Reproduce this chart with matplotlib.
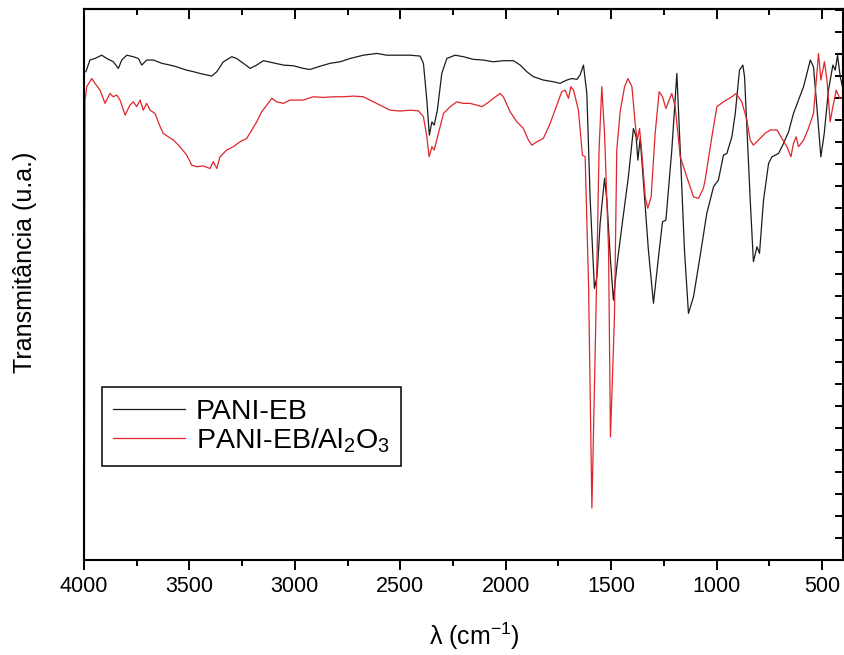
import matplotlib

matplotlib.use("Agg")
import matplotlib.pyplot as plt
from matplotlib.ticker import MultipleLocator

plt.rcParams["font.family"] = ["Liberation Sans", "DejaVu Sans"]
plt.rcParams["mathtext.fontset"] = "custom"
plt.rcParams["mathtext.rm"] = "Liberation Sans"
plt.rcParams["mathtext.it"] = "Liberation Sans:italic"

# FTIR spectra (wavenumber in cm-1, transmittance in a.u.)
pani_wn = [
    3991, 3972, 3948, 3916, 3892, 3861, 3837, 3821, 3797, 3766, 3742, 3726, 3703, 3671,
    3631, 3592, 3560, 3513, 3481, 3450, 3418, 3394, 3370, 3339, 3299, 3276, 3244, 3212,
    3181, 3149, 3102, 3054, 3007, 2960, 2928, 2880, 2833, 2785, 2738, 2675, 2611, 2564,
    2516, 2453, 2406, 2390, 2374, 2362, 2350, 2339, 2324, 2303, 2279, 2240, 2200, 2153,
    2106, 2058, 2011, 1963, 1931, 1900, 1868, 1821, 1773, 1742, 1710, 1686, 1662, 1647,
    1631, 1615, 1599, 1579, 1567, 1552, 1531, 1520, 1504, 1489, 1473, 1449, 1418, 1394,
    1381, 1373, 1362, 1346, 1323, 1299, 1275, 1256, 1240, 1212, 1188, 1172, 1152, 1133,
    1109, 1077, 1046, 1014, 991, 967, 951, 927, 911, 891, 875, 867, 856, 840, 825, 808,
    796, 777, 753, 737, 706, 682, 658, 635, 611, 587, 555, 540, 524, 505, 489, 469, 448,
    437, 426, 413, 399,
]
pani_t = [
    22.20, 22.73, 22.80, 22.95, 22.80, 22.65, 22.35, 22.73, 22.95, 22.88, 22.80, 22.50,
    22.73, 22.73, 22.58, 22.50, 22.42, 22.27, 22.20, 22.12, 22.05, 22.00, 22.20, 22.65,
    22.88, 22.80, 22.58, 22.35, 22.50, 22.70, 22.60, 22.50, 22.47, 22.35, 22.30, 22.45,
    22.58, 22.65, 22.80, 22.95, 23.03, 22.95, 22.95, 22.95, 22.91, 22.58, 20.91, 19.32,
    19.92, 19.77, 20.45, 22.12, 22.80, 22.95, 22.88, 22.76, 22.73, 22.65, 22.70, 22.70,
    22.50, 22.20, 21.97, 21.82, 21.74, 21.67, 21.82, 21.89, 21.85, 22.05, 22.50, 21.21,
    16.36, 12.35, 12.88, 15.30, 17.35, 16.36, 13.79, 11.82, 13.33, 15.15, 17.42, 19.62,
    19.24, 18.18, 19.17, 17.12, 14.09, 11.67, 13.79, 15.38, 15.45, 18.64, 22.12, 18.64,
    14.09, 11.21, 11.97, 13.86, 15.76, 16.97, 17.27, 18.41, 18.48, 19.24, 20.30, 22.27,
    22.50, 21.97, 19.70, 16.36, 13.56, 14.24, 13.94, 16.36, 18.03, 18.33, 18.48, 18.94,
    19.47, 20.30, 20.91, 21.52, 22.73, 22.42, 20.61, 18.33, 19.39, 21.36, 22.50, 22.27,
    22.95, 21.97, 21.36,
]

al2o3_wn = [
    3998, 3995, 3987, 3963, 3948, 3924, 3900, 3877, 3861, 3845, 3829, 3805, 3782, 3766,
    3750, 3734, 3719, 3703, 3687, 3663, 3639, 3624, 3600, 3576, 3545, 3513, 3489, 3465,
    3434, 3402, 3387, 3370, 3355, 3323, 3292, 3260, 3228, 3204, 3181, 3157, 3133, 3109,
    3086, 3054, 3023, 2991, 2960, 2912, 2865, 2817, 2770, 2722, 2675, 2627, 2580, 2548,
    2501, 2453, 2414, 2390, 2374, 2363, 2350, 2339, 2327, 2295, 2263, 2232, 2200, 2169,
    2137, 2113, 2089, 2058, 2026, 2011, 1979, 1947, 1916, 1892, 1876, 1852, 1821, 1789,
    1757, 1734, 1718, 1702, 1691, 1678, 1655, 1636, 1623, 1607, 1591, 1572, 1557, 1544,
    1531, 1512, 1503, 1484, 1473, 1457, 1436, 1420, 1401, 1386, 1376, 1365, 1354, 1338,
    1326, 1310, 1291, 1272, 1256, 1240, 1212, 1196, 1172, 1141, 1109, 1085, 1062, 1054,
    1022, 998, 967, 927, 907, 880, 856, 840, 825, 801, 769, 745, 713, 690, 666, 647,
    635, 622, 611, 587, 564, 540, 524, 516, 505, 488, 476, 461, 448, 432, 416, 400,
]
al2o3_t = [
    0.00, 20.91, 21.52, 21.89, 21.67, 21.36, 20.76, 21.21, 21.06, 21.14, 20.91, 20.23,
    20.68, 20.83, 20.61, 20.91, 20.45, 20.76, 20.45, 20.30, 19.70, 19.39, 19.24, 19.09,
    18.79, 18.41, 17.95, 17.88, 17.91, 17.80, 18.11, 17.80, 18.33, 18.64, 18.79, 19.01,
    19.17, 19.55, 19.92, 20.38, 20.68, 20.99, 20.83, 20.76, 20.91, 20.91, 20.91, 21.06,
    21.03, 21.06, 21.06, 21.09, 21.06, 20.83, 20.61, 20.45, 20.41, 20.45, 20.42, 20.15,
    19.24, 18.33, 18.79, 18.64, 19.09, 20.30, 20.61, 20.83, 20.76, 20.76, 20.68, 20.61,
    20.76, 20.99, 21.21, 21.06, 20.38, 19.92, 19.62, 19.09, 18.86, 19.01, 19.17, 19.85,
    20.68, 21.29, 21.36, 20.99, 21.52, 21.36, 20.45, 18.41, 18.33, 12.58, 2.36, 11.06,
    18.64, 21.52, 19.39, 14.09, 5.59, 11.06, 18.64, 20.38, 21.52, 21.89, 21.52, 19.85,
    19.09, 19.62, 18.48, 16.51, 15.99, 16.51, 19.39, 21.29, 21.06, 20.53, 21.21, 20.61,
    18.33, 17.42, 16.51, 16.44, 16.91, 17.27, 19.24, 20.61, 20.83, 21.06, 21.21, 20.83,
    20.00, 19.09, 18.86, 19.09, 19.40, 19.55, 19.55, 19.17, 18.79, 18.33, 18.94, 19.24,
    18.79, 19.09, 19.62, 20.30, 22.12, 23.03, 21.82, 22.65, 21.82, 19.92, 20.61, 21.36,
    20.99, 20.99,
]

series_labels = ["PANI-EB", "PANI-EB/Al$_2$O$_3$"]
x_ticks = [4000, 3500, 3000, 2500, 2000, 1500, 1000, 500]

fig = plt.figure(figsize=(8.45, 6.55), dpi=100)
ax = fig.add_axes([84 / 845, 95 / 655, 759 / 845, 551 / 655])

ax.plot(pani_wn, pani_t, color="#1c1c1c", lw=0.9, label=series_labels[0])
ax.plot(al2o3_wn, al2o3_t, color="#e0262a", lw=0.9, label=series_labels[1])

ax.set_xlim(4000, 400)
ax.set_ylim(0, 25.05)

ax.set_xticks(x_ticks)
ax.xaxis.set_minor_locator(MultipleLocator(250))
ax.yaxis.set_major_locator(MultipleLocator(1))
ax.tick_params(axis="x", which="both", direction="out", bottom=True, top=False,
               labelsize=15.5, pad=4, width=1.4)
ax.tick_params(axis="x", which="major", length=7.5)
ax.tick_params(axis="x", which="minor", length=4.5)
ax.tick_params(axis="y", which="both", left=False, right=True, direction="in",
               labelleft=False, labelright=False, length=6, width=1.4)

# top ticks point inward, bottom ones outward
top = ax.secondary_xaxis("top")
top.set_xticks(x_ticks)
top.xaxis.set_minor_locator(MultipleLocator(250))
top.tick_params(which="both", direction="in", labeltop=False, width=1.4)
top.tick_params(which="major", length=7.5)
top.tick_params(which="minor", length=4.5)
top.spines["top"].set_linewidth(1.5)

for spine in ax.spines.values():
    spine.set_linewidth(1.5)

ax.set_xlabel("λ (cm$^{-1}$)", fontsize=18, labelpad=17)
ax.xaxis.label.set_x(0.515)
ax.set_ylabel("Transmitância (u.a.)", fontsize=18)
ax.yaxis.set_label_coords(-0.062, 0.541)

leg = ax.legend(loc="lower left", bbox_to_anchor=(0.0237, 0.1706), borderaxespad=0,
                fontsize=20.5, fancybox=False, framealpha=1, edgecolor="black",
                handlelength=2.5, handletextpad=0.4, labelspacing=0.05, borderpad=0.4)
leg.get_frame().set_linewidth(1.1)
for line in leg.get_lines():
    line.set_linewidth(0.9)

fig.savefig("out.png", dpi=100)
